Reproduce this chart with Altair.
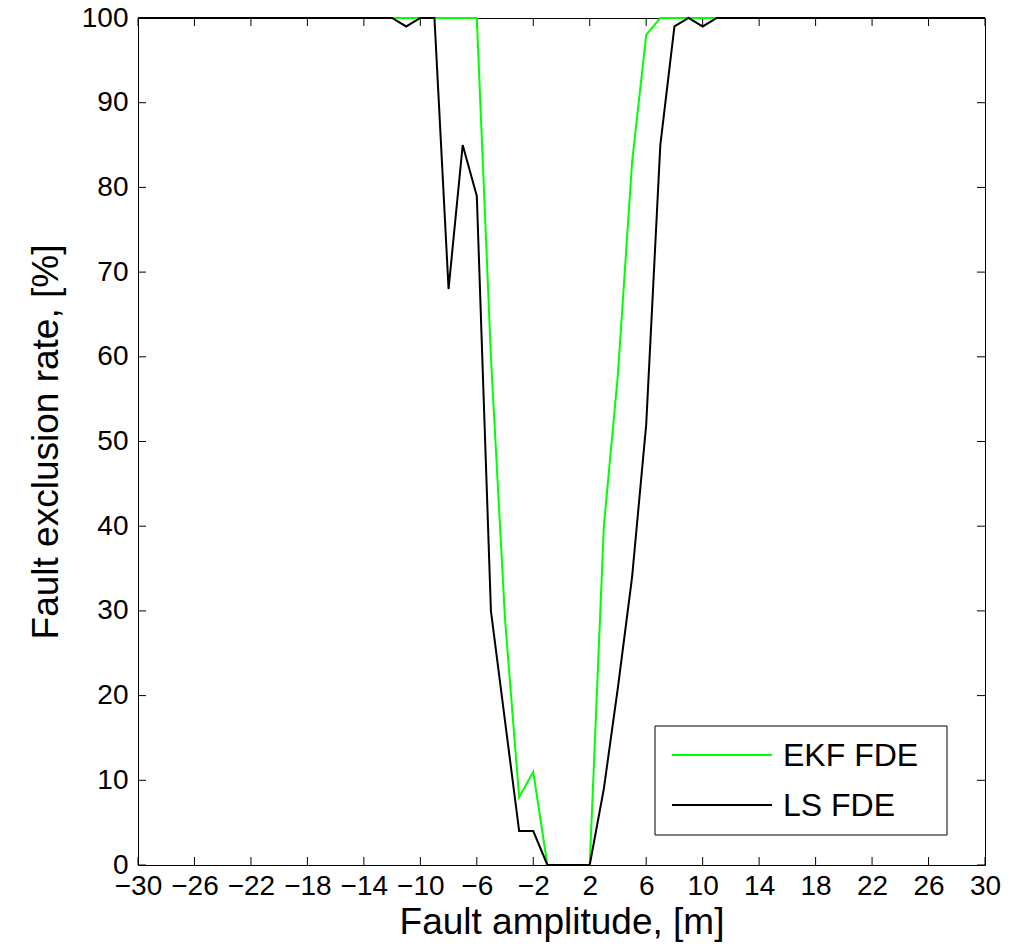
import altair as alt
import pandas as pd

amplitude = list(range(-30, 31))

ekf_fde = [100, 100, 100, 100, 100, 100, 100, 100, 100, 100,
           100, 100, 100, 100, 100, 100, 100, 100, 100, 100,
           100, 100, 100, 100,
           100, 60, 29, 8, 11, 0, 0, 0, 0, 40, 58, 83, 98,
           100, 100, 100, 100, 100, 100, 100, 100, 100, 100,
           100, 100, 100, 100, 100, 100, 100, 100, 100, 100,
           100, 100, 100, 100]

ls_fde = [100, 100, 100, 100, 100, 100, 100, 100, 100, 100,
          100, 100, 100, 100, 100, 100, 100, 100, 100,
          99, 100, 100, 68, 85, 79, 30, 17, 4, 4, 0, 0, 0, 0,
          9, 21, 34, 52, 85, 99, 100, 99,
          100, 100, 100, 100, 100, 100, 100, 100, 100, 100,
          100, 100, 100, 100, 100, 100, 100, 100, 100, 100]

series_names = ["EKF FDE", "LS FDE"]
series_colors = ["#00ff00", "#000000"]

x_ticks = [-30, -26, -22, -18, -14, -10, -6, -2, 2, 6, 10, 14, 18, 22, 26, 30]
y_ticks = [0, 10, 20, 30, 40, 50, 60, 70, 80, 90, 100]

FONT = "Liberation Sans"
W, H = 847, 847
TICK = 8

ekf_df = pd.DataFrame({"x": amplitude, "y": ekf_fde, "series": series_names[0]})
ls_df = pd.DataFrame({"x": amplitude, "y": ls_fde, "series": series_names[1]})
xt_df = pd.DataFrame({"t": x_ticks})
yt_df = pd.DataFrame({"t": y_ticks})

xscale = alt.Scale(domain=[-30, 30], nice=False, zero=False)
yscale = alt.Scale(domain=[0, 100], nice=False)

color = alt.Color(
    "series:N",
    scale=alt.Scale(domain=series_names, range=series_colors),
    legend=None,
)

xaxis = alt.Axis(
    values=x_ticks, title="Fault amplitude, [m]", grid=False, ticks=False, domain=False,
    labelExpr="replace(datum.label, '-', '\u2212')",
    labelFont=FONT, labelFontSize=28, labelColor="black", labelPadding=7,
    labelOverlap=False, labelFlush=False,
    titleFont=FONT, titleFontSize=37, titleFontWeight="normal", titleColor="black",
    titlePadding=4,
)
yaxis = alt.Axis(
    values=y_ticks, title="Fault exclusion rate, [%]", grid=False, ticks=False, domain=False,
    labelFont=FONT, labelFontSize=28, labelColor="black", labelPadding=10,
    labelOverlap=False, labelFlush=False,
    titleFont=FONT, titleFontSize=37, titleFontWeight="normal", titleColor="black",
    titlePadding=16,
)

ekf_line = alt.Chart(ekf_df).mark_line(strokeWidth=2).encode(
    x=alt.X("x:Q", scale=xscale, axis=xaxis),
    y=alt.Y("y:Q", scale=yscale, axis=yaxis),
    color=color,
)
ls_line = alt.Chart(ls_df).mark_line(strokeWidth=2).encode(
    x=alt.X("x:Q", scale=xscale, axis=xaxis),
    y=alt.Y("y:Q", scale=yscale, axis=yaxis),
    color=color,
)

bottom_ticks = alt.Chart(xt_df).mark_rule(color="black", strokeWidth=1).encode(
    x=alt.X("t:Q", scale=xscale), y=alt.value(H), y2=alt.value(H - TICK))
top_ticks = alt.Chart(xt_df).mark_rule(color="black", strokeWidth=1).encode(
    x=alt.X("t:Q", scale=xscale), y=alt.value(0), y2=alt.value(TICK))
left_ticks = alt.Chart(yt_df).mark_rule(color="black", strokeWidth=1).encode(
    y=alt.Y("t:Q", scale=yscale), x=alt.value(0), x2=alt.value(TICK))
right_ticks = alt.Chart(yt_df).mark_rule(color="black", strokeWidth=1).encode(
    y=alt.Y("t:Q", scale=yscale), x=alt.value(W - TICK), x2=alt.value(W))

# manual legend (box, line samples, labels)
LX0, LX1, LY0, LY1 = 517, 809, 708, 817
row_y = [737, 787]
legend_box = alt.Chart(ekf_df.head(1)).mark_rect(
    fill="white", stroke="black", strokeWidth=1
).encode(x=alt.value(LX0), x2=alt.value(LX1), y=alt.value(LY0), y2=alt.value(LY1))

legend_layers = [legend_box]
for name, col, yy in zip(series_names, series_colors, row_y):
    row_df = pd.DataFrame({"series": [name]})
    legend_layers.append(
        alt.Chart(row_df).mark_rule(color=col, strokeWidth=2).encode(
            x=alt.value(534), x2=alt.value(634), y=alt.value(yy))
    )
    legend_layers.append(
        alt.Chart(row_df).mark_text(
            align="left", baseline="middle", font=FONT, fontSize=32, color="black"
        ).encode(x=alt.value(645), y=alt.value(yy + 1), text="series:N")
    )

chart = alt.layer(
    bottom_ticks, top_ticks, left_ticks, right_ticks, ekf_line, ls_line, *legend_layers
).properties(
    width=W, height=H,
    padding={"left": 138, "top": 18, "right": 37, "bottom": 84},
    autosize=alt.AutoSizeParams(type="none"),
    background="white",
).configure_view(
    stroke="black", strokeWidth=1
)

chart.save("out.html", embed_options={"renderer": "svg", "actions": False})
